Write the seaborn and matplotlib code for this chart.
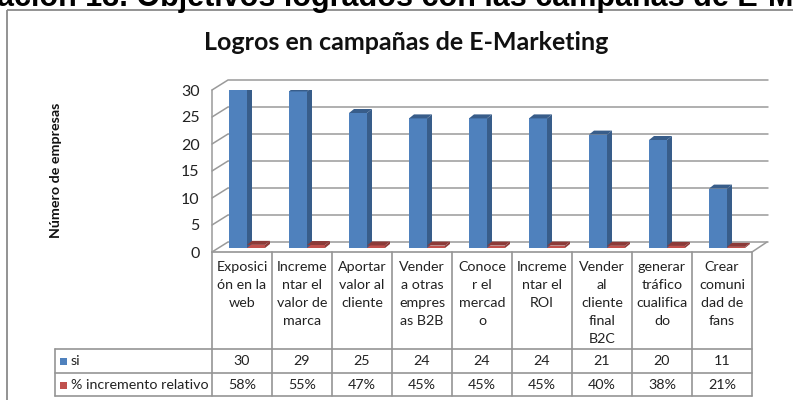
import numpy as np
import pandas as pd
import matplotlib.pyplot as plt
import seaborn as sns
from matplotlib.transforms import ScaledTranslation
from matplotlib.patches import Polygon, Rectangle

# datos
categorias = ["Exposici\nón en la\nweb", "Increme\nntar el\nvalor de\nmarca", "Aportar\nvalor al\ncliente",
              "Vender\na otras\nempres\nas B2B", "Conoce\nr el\nmercad\no", "Increme\nntar el\nROI",
              "Vender\nal\ncliente\nfinal\nB2C", "generar\ntráfico\ncualifica\ndo", "Crear\ncomuni\ndad de\nfans"]
si = [30, 29, 25, 24, 24, 24, 21, 20, 11]
incremento = [0.58, 0.55, 0.47, 0.45, 0.45, 0.45, 0.40, 0.38, 0.21]
series = ["si", "% incremento relativo"]
yticks = [0, 5, 10, 15, 20, 25, 30]

azul, azul_osc = "#4F81BD", "#385D8A"
rojo, rojo_osc = "#C0504D", "#8C3A38"
gris = "#9a9a9a"

sns.set_style("white")
plt.rcParams['font.family'] = ['Lato', 'DejaVu Sans']

W, H = 793, 400
fig = plt.figure(figsize=(W / 100, H / 100), dpi=100)


def fx(px):
    return px / W


def fy(py):
    return 1 - py / H


# zona del grafico (plano frontal)
x0, x1, ytop, ybot = 212, 752, 90, 252
ax = fig.add_axes([fx(x0), fy(ybot), (x1 - x0) / W, (ybot - ytop) / H])

df = pd.DataFrame({
    "objetivo": categorias * 2,
    "valor": si + incremento,
    "serie": [series[0]] * len(si) + [series[1]] * len(incremento),
})
sns.barplot(data=df, x="objetivo", y="valor", hue="serie", palette=[azul, rojo],
            width=0.6, saturation=1, errorbar=None, legend=False, linewidth=0, ax=ax)

n = len(categorias)
ax.set_xlim(-0.5, n - 0.5)
ax.set_ylim(0, 30)
kx = n / (x1 - x0)      # unidades por pixel
ky = 30 / (ybot - ytop)

# efecto 3D de las barras
off = ScaledTranslation(5 / 100, 4 / 100, fig.dpi_scale_trans)
dx, dy = 5 * kx, 4 * ky
for p in list(ax.patches):
    col = azul_osc if p.get_facecolor()[0] < 0.5 else rojo_osc
    bx, bw, bh = p.get_x(), p.get_width(), p.get_height()
    p.set_transform(ax.transData + off)
    lado = Polygon([(bx + bw, 0), (bx + bw + dx, dy), (bx + bw + dx, bh + dy), (bx + bw, bh)],
                   closed=True, facecolor=col, edgecolor='none', transform=ax.transData + off)
    tapa = Polygon([(bx, bh), (bx + bw, bh), (bx + bw + dx, bh + dy), (bx + dx, bh + dy)],
                   closed=True, facecolor=col, edgecolor='none', transform=ax.transData + off)
    ax.add_patch(lado)
    ax.add_patch(tapa)
    p.set_zorder(3)
    lado.set_zorder(3)
    tapa.set_zorder(3)

# pared del fondo y suelo
gx, gy = 16 * kx, 10 * ky
for v in yticks:
    ax.plot([-0.5, -0.5 + gx, n - 0.5 + gx], [v, v + gy, v + gy], color=gris, lw=1.1,
            clip_on=False, zorder=1)
ax.plot([-0.5, -0.5], [0, 30], color=gris, lw=1.1, clip_on=False, zorder=1)
ax.plot([n - 0.5, n - 0.5 + 15 * kx], [0, gy], color=gris, lw=1.1, clip_on=False, zorder=1)

ax.set_xticks([])
ax.set_yticks(yticks)
ax.set_yticklabels([str(v) for v in yticks], fontsize=11.5, color="#222222")
ax.tick_params(axis='y', length=0, pad=9)
ax.set_xlabel("")
ax.set_ylabel("")
for s in ax.spines.values():
    s.set_visible(False)
ax.patch.set_alpha(0)

# capa para tabla, marco y textos
ov = fig.add_axes([0, 0, 1, 1], zorder=-1)
ov.set_xlim(0, W)
ov.set_ylim(H, 0)
ov.axis('off')

ov.add_patch(Rectangle((7, 10), 820, 420, fill=False, edgecolor="#8a8a8a", lw=1.3))

# tabla de datos
colw = (x1 - x0) / n
lc = "#959595"
ov.plot([x0, x1], [ybot, ybot], color=lc, lw=1.2)
for yy in [349, 373, 396]:
    ov.plot([55, x1], [yy, yy], color=lc, lw=1.2)
ov.plot([55, 55], [349, 396], color=lc, lw=1.2)
for i in range(n + 1):
    ov.plot([x0 + i * colw] * 2, [ybot, 396], color=lc, lw=1.2)

fs = 10.3
for i, cat in enumerate(categorias):
    cx = x0 + (i + 0.5) * colw
    for j, linea in enumerate(cat.split("\n")):
        ov.text(cx, 267 + 18 * j, linea, ha='center', va='center', fontsize=fs, color="#222222")
    ov.text(cx, 361, str(si[i]), ha='center', va='center', fontsize=fs, color="#222222")
    ov.text(cx, 385, f"{round(incremento[i] * 100)}%", ha='center', va='center', fontsize=fs,
            color="#222222")

for yy, nombre, c in [(361, series[0], azul), (385, series[1], rojo)]:
    ov.add_patch(Rectangle((60, yy - 3.5), 7, 7, facecolor=c, edgecolor='none'))
    ov.text(71, yy, nombre, ha='left', va='center', fontsize=fs, color="#222222")

# titulos
ov.text(406, 42, "Logros en campañas de E-Marketing", ha='center', va='center',
        fontsize=18, fontweight='bold', color="#111111")
ov.text(56, 170, "Número de empresas", ha='center', va='center', rotation=90,
        fontsize=10.3, fontweight='bold', color="#111111")
fig.text(-0.004, fy(6), "ación 13. Objetivos logrados con las campañas de E-Marketing",
         ha='left', va='baseline', fontsize=22, fontweight='bold',
         family=['Liberation Sans', 'DejaVu Sans'], color="#000000")

fig.savefig("out.png", dpi=100)
